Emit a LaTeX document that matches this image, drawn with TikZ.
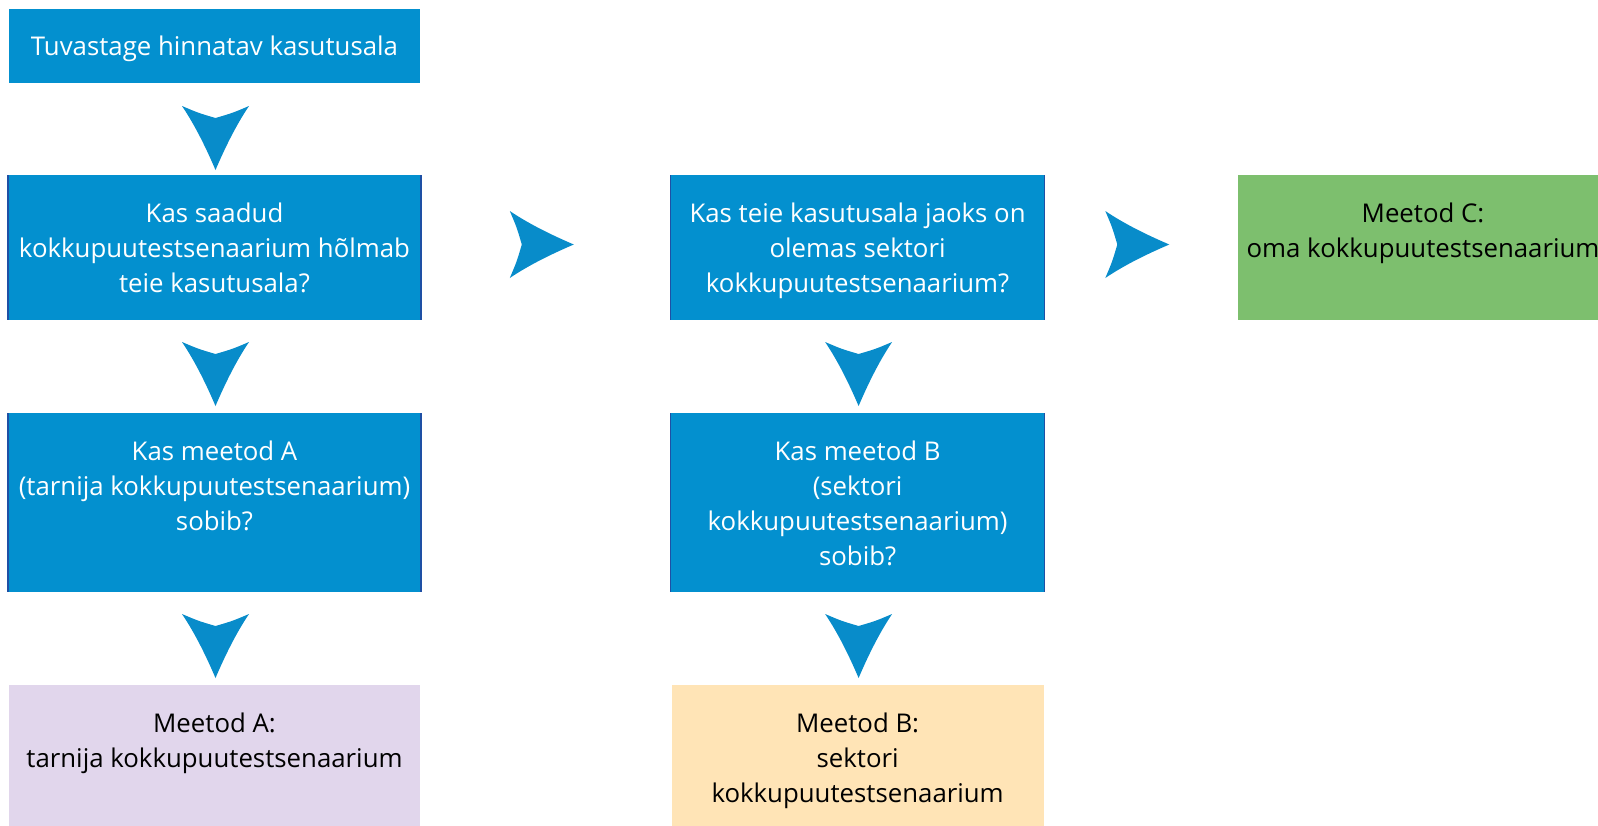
\documentclass[tikz,border=0pt]{standalone}
\usepackage{fontspec}
\setmainfont{Open Sans}
\usetikzlibrary{calc}
\definecolor{boxblue}{RGB}{3,144,207}
\definecolor{edgeblue}{RGB}{30,80,165}
\definecolor{arrowblue}{RGB}{8,140,202}
\definecolor{lavender}{RGB}{225,214,236}
\definecolor{peach}{RGB}{255,228,182}
\definecolor{leafgreen}{RGB}{125,191,110}
\tikzset{
  box/.style={rectangle, inner sep=0, outer sep=0, draw=none},
  bluebox/.style={box, fill=boxblue},
  txt/.style={anchor=north, inner sep=0, align=center, font=\fontsize{25.8}{35}\selectfont},
  wtxt/.style={txt, text=white},
  btxt/.style={txt, text=black},
  dart/.pic={\fill[arrowblue] (0pt,0pt) .. controls (-9pt,21pt) and (-20pt,44pt) .. (-33.5pt,64pt)
     .. controls (-17pt,57pt) .. (0pt,52pt) .. controls (17pt,57pt) .. (33.5pt,64pt)
     .. controls (20pt,44pt) and (9pt,21pt) .. (0pt,0pt) -- cycle;}
}
\begin{document}
\begin{tikzpicture}[x=1pt,y=-1pt]
\useasboundingbox (0,0) rectangle (1598,825);
\clip (0,0) rectangle (1598,825);
% left column
\node[bluebox, minimum width=411pt, minimum height=74pt] (b1) at (214.5,46) {};
\node[bluebox, minimum width=413pt, minimum height=145pt] (b2) at (214.5,247.5) {};
\node[bluebox, minimum width=413pt, minimum height=179pt] (b5) at (214.5,502.5) {};
\node[box, fill=lavender, minimum width=411pt, minimum height=155pt] (b7) at (214.5,762.5) {};
% middle column
\node[bluebox, minimum width=374pt, minimum height=145pt] (b3) at (857.6,247.5) {};
\node[bluebox, minimum width=374pt, minimum height=179pt] (b6) at (857.6,502.5) {};
\node[box, fill=peach, minimum width=372pt, minimum height=155pt] (b8) at (857.6,762.5) {};
% right
\node[box, fill=leafgreen, minimum width=460pt, minimum height=145pt] (b4) at (1468,247.5) {};
% edges
\foreach \b in {b2,b5,b3,b6}{
  \draw[edgeblue, line width=1.5pt] (\b.north west) -- (\b.south west);
  \draw[edgeblue, line width=1.5pt] (\b.north east) -- (\b.south east);
}
% texts
\node[wtxt] (t1) at ($(b1.north)+(0,21.5)$) {\strut Tuvastage hinnatav kasutusala};
\node[wtxt] (t2) at ($(b2.north)+(0,22.5)$) {\strut Kas saadud\\kokkupuutestsenaarium hõlmab\\teie kasutusala?};
\node[wtxt] (t3) at ($(b3.north)+(0,22.5)$) {\strut Kas teie kasutusala jaoks on\\olemas sektori\\kokkupuutestsenaarium?};
\node[btxt] (t4) at (1423,197.5) {\strut Meetod C:\\oma kokkupuutestsenaarium};
\node[wtxt] (t5) at ($(b5.north)+(0,22.5)$) {\strut Kas meetod A\\(tarnija kokkupuutestsenaarium)\\sobib?};
\node[wtxt] (t6) at ($(b6.north)+(0,22.5)$) {\strut Kas meetod B\\(sektori\\kokkupuutestsenaarium)\\sobib?};
\node[btxt] (t7) at ($(b7.north)+(0,22.5)$) {\strut Meetod A:\\tarnija kokkupuutestsenaarium};
\node[btxt] (t8) at ($(b8.north)+(0,22.5)$) {\strut Meetod B:\\sektori\\kokkupuutestsenaarium};
% arrows
\pic at ($(b2.north)+(1,-5)$) {dart};
\pic at ($(b5.north)+(1,-7)$) {dart};
\pic at ($(b7.north)+(1,-7)$) {dart};
\pic at ($(b6.north)+(1,-7)$) {dart};
\pic at ($(b8.north)+(1,-7)$) {dart};
\pic[rotate=90] at ($(b2.east)!0.5!(b3.west)+(28,-3)$) {dart};
\pic[rotate=90] at ($(b3.east)!0.5!(b4.west)+(28,-3)$) {dart};
\end{tikzpicture}
\end{document}
